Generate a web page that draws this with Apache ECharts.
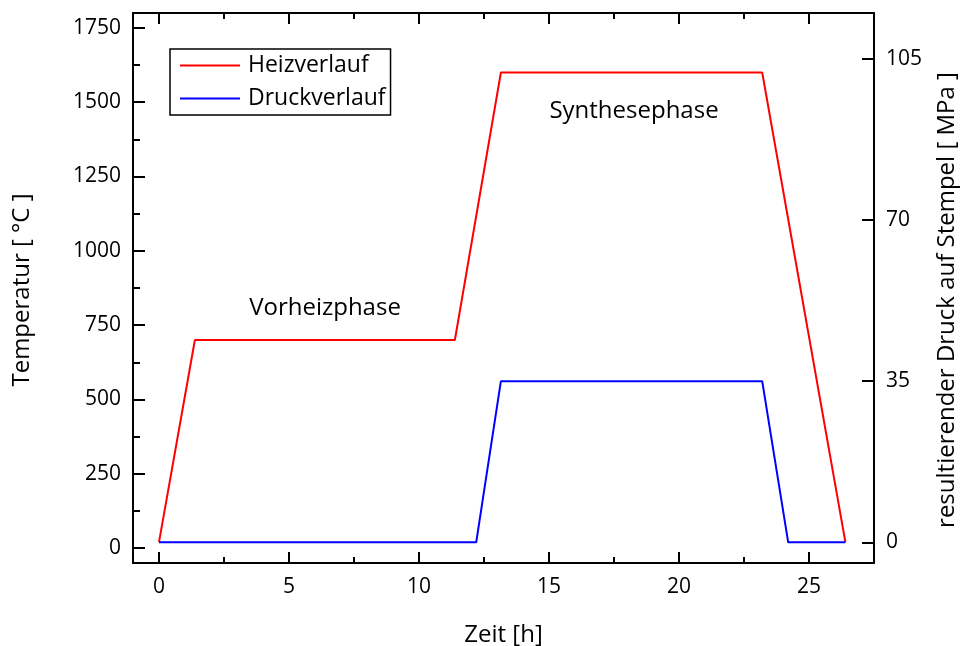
<!DOCTYPE html>
<html>
<head>
<meta charset="utf-8">
<script src="https://cdn.jsdelivr.net/npm/echarts@6/dist/echarts.min.js"></script>
<style>
  html, body { margin: 0; padding: 0; background: #fff; }
  #chart { width: 962px; height: 646px; }
</style>
</head>
<body>
<div id="chart"></div>
<script>
// Heating profile (temperature) and resulting punch pressure over time
const zeitHeiz = [0, 1.38, 11.38, 13.15, 23.2, 26.4];
const temperatur = [20, 700, 700, 1600, 1600, 20];
const zeitDruck = [0, 12.2, 13.15, 23.2, 24.2, 26.4];
const druck = [0, 0, 35, 35, 0, 0];

const xMajor = [0, 5, 10, 15, 20, 25];
const xMinor = [2.5, 7.5, 12.5, 17.5, 22.5];
const yMajor = [0, 250, 500, 750, 1000, 1250, 1500, 1750];
const yMinor = [125, 375, 625, 875, 1125, 1375, 1625];
const pMajor = [0, 35, 70, 105];

const FONT = 'Open Sans';
const BLACK = '#000';

function pairs(xs, ys) { return xs.map((x, i) => [x, ys[i]]); }
const plain = v => String(v);

const chart = echarts.init(document.getElementById('chart'), null, { renderer: 'canvas' });

const xBase = { type: 'value', min: -1, max: 27.5, gridIndex: 0, splitLine: { show: false } };
const lineStyle = { color: BLACK, width: 2 };

function xAxis(position, ticks, len, withLine, withLabels) {
  return Object.assign({}, xBase, {
    position: position,
    axisLine: { show: withLine, onZero: false, lineStyle: lineStyle },
    axisTick: { show: true, inside: true, length: len, customValues: ticks, lineStyle: { color: BLACK, width: 2 } },
    axisLabel: withLabels
      ? { show: true, customValues: ticks, formatter: plain, margin: 14, color: BLACK, fontFamily: FONT, fontSize: 21 }
      : { show: false }
  });
}

function yAxis(position, min, max, ticks, len, withLine, labels, extra) {
  return Object.assign({
    type: 'value', min: min, max: max, position: position,
    splitLine: { show: false },
    axisLine: { show: withLine, onZero: false, lineStyle: lineStyle },
    axisTick: { show: true, inside: true, length: len, customValues: ticks, lineStyle: { color: BLACK, width: 2 } },
    axisLabel: labels
      ? { show: true, customValues: ticks, formatter: plain, margin: 12, color: BLACK, fontFamily: FONT, fontSize: 21 }
      : { show: false }
  }, extra || {});
}

const option = {
  backgroundColor: '#fff',
  animation: false,
  grid: { left: 133, right: 88, top: 13, bottom: 83, outerBoundsMode: 'none', containLabel: false },
  legend: {
    orient: 'vertical',
    left: 170, top: 49,
    padding: [5, 5, 5, 9],
    itemWidth: 60, itemHeight: 20, itemGap: 10,
    borderColor: BLACK, borderWidth: 1.5,
    itemStyle: { opacity: 0 },
    textStyle: { color: BLACK, fontFamily: FONT, fontSize: 23, padding: [0, 0, 0, 3] },
    data: ['Heizverlauf', 'Druckverlauf']
  },
  xAxis: [
    Object.assign(xAxis('bottom', xMajor, 11, true, true), {
      name: 'Zeit [h]', nameLocation: 'middle', nameGap: 60,
      nameTextStyle: { color: BLACK, fontFamily: FONT, fontSize: 24, verticalAlign: 'top' }
    }),
    xAxis('bottom', xMinor, 6, false, false),
    xAxis('top', xMajor, 11, true, false),
    xAxis('top', xMinor, 6, false, false)
  ],
  yAxis: [
    yAxis('left', -50, 1800, yMajor, 12, true, true, {
      name: 'Temperatur [ °C ]', nameLocation: 'middle', nameGap: 99, nameRotate: 90,
      nameTextStyle: { color: BLACK, fontFamily: FONT, fontSize: 24, padding: [0, 4, 0, 0] }
    }),
    yAxis('left', -50, 1800, yMinor, 7, false, false),
    yAxis('right', -4.5, 115, pMajor, 12, true, true, {
      name: 'resultierender Druck auf Stempel [ MPa ]', nameLocation: 'middle', nameGap: 61, nameRotate: 90,
      nameTextStyle: { color: BLACK, fontFamily: FONT, fontSize: 24, padding: [0, 24, 0, 0] }
    })
  ],
  series: [
    {
      name: 'Heizverlauf', type: 'line', xAxisIndex: 0, yAxisIndex: 0,
      data: pairs(zeitHeiz, temperatur),
      symbol: 'none', lineStyle: { color: '#ff0000', width: 2 }, itemStyle: { color: '#ff0000' },
      z: 3
    },
    {
      name: 'Druckverlauf', type: 'line', xAxisIndex: 0, yAxisIndex: 2,
      data: pairs(zeitDruck, druck),
      symbol: 'none', lineStyle: { color: '#0000ff', width: 2 }, itemStyle: { color: '#0000ff' },
      z: 4
    }
  ],
  graphic: [
    { type: 'text', style: { x: 325, y: 308, text: 'Vorheizphase', fill: BLACK, font: '24px "Open Sans"', align: 'center', verticalAlign: 'middle' } },
    { type: 'text', style: { x: 634, y: 111, text: 'Synthesephase', fill: BLACK, font: '24px "Open Sans"', align: 'center', verticalAlign: 'middle' } }
  ]
};

chart.setOption(option);
</script>
</body>
</html>
